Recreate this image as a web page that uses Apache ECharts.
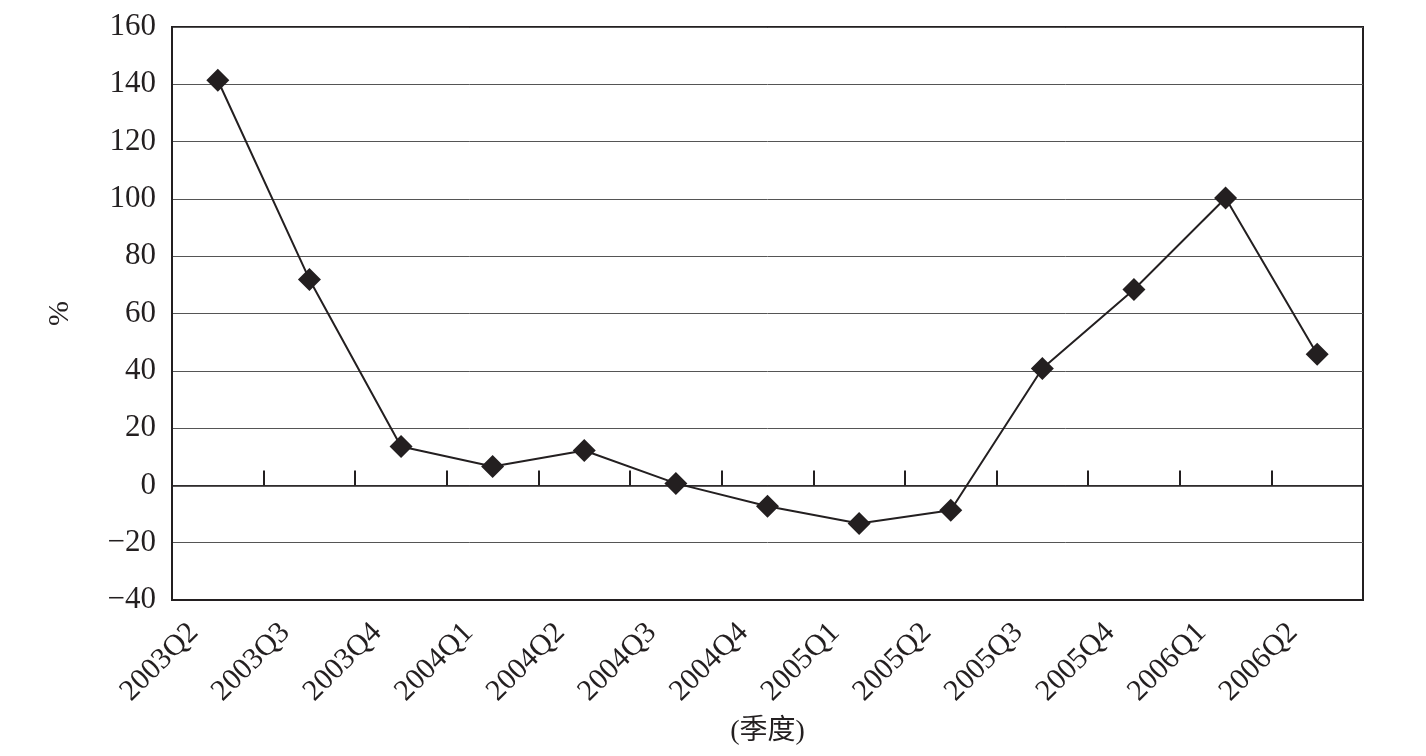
<!DOCTYPE html>
<html><head><meta charset="utf-8">
<script src="https://cdn.jsdelivr.net/npm/echarts@6/dist/echarts.min.js"></script>
<style>html,body{margin:0;padding:0;background:#fff}#c{width:1426px;height:756px}</style>
</head><body><div id="c"></div>
<script>
const categories = ['2003Q2','2003Q3','2003Q4','2004Q1','2004Q2','2004Q3','2004Q4','2005Q1','2005Q2','2005Q3','2005Q4','2006Q1','2006Q2'];
const values = [141.4, 71.9, 13.6, 6.6, 12.2, 0.7, -7.3, -13.3, -8.7, 40.8, 68.4, 100.3, 45.8];
const yTicks = { min: -40, max: 160, interval: 20 };
const xName = '(季度)';
const yName = '%';

const ink = '#231f20';
const font = '"Liberation Serif", "Noto Sans CJK SC", serif';
const chart = echarts.init(document.getElementById('c'));
chart.setOption({
  backgroundColor: '#fff',
  animation: false,
  grid: { left: 172, right: 63, top: 27, bottom: 156, show: true, borderColor: ink, borderWidth: 2, containLabel: false },
  xAxis: [{
    type: 'category', data: categories, boundaryGap: true, position: 'bottom',
    axisLine: { onZero: false, show: true, lineStyle: { color: ink, width: 2 } },
    axisTick: { show: false },
    axisLabel: { rotate: 45, margin: 4, padding: [0, 34, 0, 0], fontFamily: font, fontSize: 30, color: ink },
    name: xName, nameLocation: 'middle', nameGap: 118,
    nameTextStyle: { fontFamily: font, fontSize: 28, color: ink },
    splitLine: { show: false }
  }, {
    type: 'category', data: categories, boundaryGap: true, position: 'top',
    axisLine: { onZero: true, show: true, lineStyle: { color: ink, width: 1.5 } },
    axisTick: { show: true, inside: false, length: 15, lineStyle: { color: ink, width: 2 } },
    axisLabel: { show: false },
    splitLine: { show: false }
  }],
  yAxis: {
    type: 'value', min: yTicks.min, max: yTicks.max, interval: yTicks.interval,
    axisLine: { show: true, lineStyle: { color: ink, width: 2 } },
    axisTick: { show: false },
    axisLabel: { margin: 16, fontFamily: font, fontSize: 31, color: ink,
      formatter: v => String(v).replace('-', '\u2212') },
    splitLine: { show: true, lineStyle: { color: '#555', width: 1 } },
    name: yName, nameLocation: 'middle', nameGap: 97, nameRotate: 90,
    nameTextStyle: { fontFamily: font, fontSize: 30, color: ink }
  },
  series: [{
    type: 'line', data: values, xAxisIndex: 0,
    symbol: 'diamond', symbolSize: [23, 23],
    lineStyle: { color: ink, width: 2 },
    itemStyle: { color: ink },
    z: 5
  }]
});
</script></body></html>
